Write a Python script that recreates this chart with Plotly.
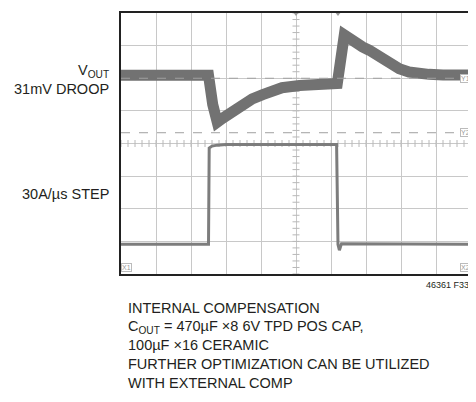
import plotly.graph_objects as go
import numpy as np

# scope screen in divisions: 10 across, 8 high (0 = bottom)
vout_t = [0.0, 2.5, 2.62, 2.75, 2.9, 3.2, 3.48, 3.75, 4.05, 4.35, 4.6, 5.1, 5.6, 6.18,
          6.38, 6.5, 6.67, 6.9, 7.09, 7.38, 7.66, 7.95, 8.23, 8.5, 8.8, 9.2, 10.0]
vout_v = [6.09, 6.09, 5.2, 4.65, 4.77, 5.0, 5.2, 5.37, 5.5, 5.62, 5.71, 5.78, 5.81, 5.84,
          7.33, 7.22, 7.1, 6.96, 6.86, 6.65, 6.45, 6.29, 6.19, 6.14, 6.12, 6.1, 6.1]

iload_t = [0.0, 2.5, 2.52, 2.6, 2.75, 3.0, 6.16, 6.2, 6.24, 6.3, 10.0]
iload_v = [0.91, 0.91, 3.86, 3.92, 3.95, 3.97, 3.97, 0.9, 0.73, 0.93, 0.91]

y1_level = 6.0
y2_level = 4.33

left_labels = ["V<sub>OUT</sub><br>31mV DROOP", "30A/µs STEP"]
note_lines = [
    "INTERNAL COMPENSATION",
    "C<sub>OUT</sub> = 470µF ×8 6V TPD POS CAP,",
    "100µF ×16 CERAMIC",
    "FURTHER OPTIMIZATION CAN BE UTILIZED",
    "WITH EXTERNAL COMP",
]
fig_id = "46361 F33"

FONT = "Liberation Sans Narrow, Arial Narrow, Liberation Sans, Arial"

fig = go.Figure()

# minor ticks on the centre lines
mt = np.arange(0, 10.01, 0.2)
fig.add_trace(go.Scatter(x=mt, y=[4] * len(mt), mode="markers",
                         marker=dict(symbol="line-ns", size=5, line=dict(width=1, color="#b8b8b8")),
                         hoverinfo="skip", showlegend=False))
mt = np.arange(0, 8.01, 0.2)
fig.add_trace(go.Scatter(x=[5] * len(mt), y=mt, mode="markers",
                         marker=dict(symbol="line-ew", size=5, line=dict(width=1, color="#b8b8b8")),
                         hoverinfo="skip", showlegend=False))

for lvl in [y1_level, y2_level]:
    fig.add_hline(y=lvl, line=dict(color="#a0a0a0", width=1, dash="dash"))

fig.add_trace(go.Scatter(x=vout_t, y=vout_v, mode="lines",
                         line=dict(color="#727272", width=11),
                         hoverinfo="skip", showlegend=False))
fig.add_trace(go.Scatter(x=iload_t, y=iload_v, mode="lines",
                         line=dict(color="#7d7d7d", width=3),
                         hoverinfo="skip", showlegend=False))

# trigger markers at top
fig.add_trace(go.Scatter(x=[5.0, 6.2], y=[8.0, 8.0], mode="markers",
                         marker=dict(symbol="triangle-down", size=6, color="#999"),
                         cliponaxis=False, hoverinfo="skip", showlegend=False))

fig.update_xaxes(range=[0, 10], dtick=1, showticklabels=False, ticks="",
                 showgrid=True, gridcolor="#c8c8c8", gridwidth=1, zeroline=False,
                 showline=True, mirror=True, linecolor="#222", linewidth=2)
fig.update_yaxes(range=[0, 8], dtick=1, showticklabels=False, ticks="",
                 showgrid=True, gridcolor="#c8c8c8", gridwidth=1, zeroline=False,
                 showline=True, mirror=True, linecolor="#222", linewidth=2)

ann = [
    dict(text=left_labels[0], x=-0.03, y=5.97, xref="paper", yref="y", xanchor="right",
         yanchor="middle", align="right", showarrow=False, font=dict(size=14.5, color="#231f20", family=FONT)),
    dict(text=left_labels[1], x=-0.03, y=2.45, xref="paper", yref="y", xanchor="right",
         yanchor="middle", align="right", showarrow=False, font=dict(size=14.5, color="#231f20", family=FONT)),
    dict(text=fig_id, x=1.0, y=-0.015, xref="paper", yref="paper", xanchor="right", yanchor="top",
         showarrow=False, font=dict(size=9, color="#231f20", family=FONT)),
]
# notes below the screen: page pixel positions turned into paper units
for i, line in enumerate(note_lines):
    ann.append(dict(text=line, x=(126 - 121) / 351, y=(274 - (308.5 + i * 18.75)) / 263,
                    xref="paper", yref="paper", showarrow=False,
                    xanchor="left", yanchor="middle", align="left",
                    font=dict(size=14.5, color="#231f20", family=FONT)))

for tag, lvl in [("Y1", y1_level), ("Y2", y2_level)]:
    ann.append(dict(text=tag, x=1.0, y=lvl, xref="paper", yref="y", xanchor="right", yanchor="middle",
                    showarrow=False, font=dict(size=7, color="#999", family=FONT),
                    bgcolor="white", bordercolor="#bbb", borderwidth=1, borderpad=0))
for tag, xx, xa in [("X1", 0.0, "left"), ("X2", 1.0, "right")]:
    ann.append(dict(text=tag, x=xx, y=0.0, xref="paper", yref="y", xanchor=xa, yanchor="bottom",
                    showarrow=False, font=dict(size=7, color="#999", family=FONT),
                    bordercolor="#bbb", borderwidth=1, borderpad=0, yshift=2))

# page has an 8px body margin, so the figure is 8px smaller each way
fig.update_layout(width=468, height=394, margin=dict(l=113, r=4, t=3, b=128),
                  paper_bgcolor="white", plot_bgcolor="white",
                  annotations=ann, showlegend=False)

fig.write_html("out.html")
